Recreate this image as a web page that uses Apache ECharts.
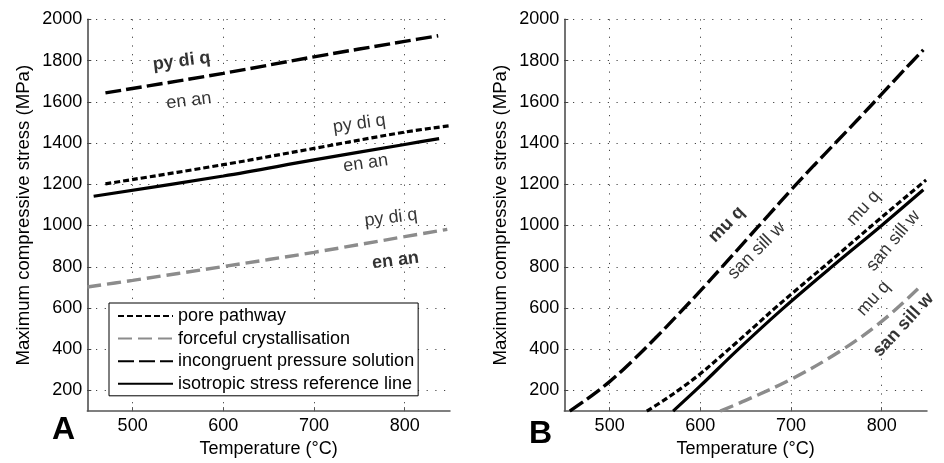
<!DOCTYPE html>
<html><head><meta charset="utf-8">
<script src="https://cdn.jsdelivr.net/npm/echarts/dist/echarts.min.js"></script>
<style>html,body{margin:0;padding:0;background:#fff}#c{width:944px;height:463px}</style>
</head><body><div id="c"></div>
<script>
const FONT = '"Liberation Sans", Arial, sans-serif';
const xTicks = [500, 600, 700, 800];
const yTicks = [200, 400, 600, 800, 1000, 1200, 1400, 1600, 1800, 2000];
const seriesNames = ['pore pathway', 'forceful crystallisation', 'incongruent pressure solution', 'isotropic stress reference line'];

// Panel A
const aPoreT = [470, 600, 700, 800, 850];
const aPoreS = [1202, 1295, 1374, 1453, 1484];
const aForceT = [450, 500, 600, 700, 800, 847];
const aForceS = [702, 734, 801, 870, 946, 981];
const aIncongT = [470, 600, 700, 800, 837];
const aIncongS = [1643, 1738, 1818, 1893, 1920];
const aIsoT = [457, 600, 700, 800, 838];
const aIsoS = [1142, 1240, 1318, 1393, 1421];

// Panel B
const bPoreT = [541, 560, 580, 600, 620, 640, 660, 682, 700, 750, 800, 849];
const bPoreS = [100, 153, 214, 281, 356, 433, 511, 598, 666, 852, 1040, 1221];
const bForceT = [622, 650, 700, 754, 800, 844];
const bForceS = [100, 152, 254, 390, 535, 710];
const bIncongT = [456, 475, 500, 525, 550, 575, 600, 625, 650, 675, 700, 725, 750, 775, 800, 825, 846];
const bIncongS = [100, 158, 243, 343, 452, 566, 683, 804, 927, 1049, 1172, 1290, 1405, 1520, 1637, 1755, 1852];
const bIsoT = [570, 600, 640, 691, 750, 800, 846];
const bIsoS = [100, 222, 392, 597, 818, 1000, 1173];

// Annotations (data coordinates)
const annAT = [554, 562, 750, 757, 785, 790];
const annAS = [1797, 1605, 1493, 1301, 1037, 830];
const annAText = ['py di q', 'en an', 'py di q', 'en an', 'py di q', 'en an'];
const annARot = [7, 7, 8, 8, 7, 7];
const annABold = [true, false, false, false, false, true];

const annBT = [629, 662, 780, 813, 791, 824];
const annBS = [1005, 878, 1085, 926, 646, 518];
const annBText = ['mu q', 'san sill w', 'mu q', 'san sill w', 'mu q', 'san sill w'];
const annBRot = [45, 45, 48, 50, 48, 47];
const annBBold = [true, false, false, false, false, true];

const zip = (a, b) => a.map((v, i) => [v, b[i]]);

const styles = [
  {color: '#000', width: 3.2, type: [6, 3]},
  {color: '#8c8c8c', width: 3.4, type: [14, 6]},
  {color: '#000', width: 3.4, type: [16, 5]},
  {color: '#000', width: 3.2, type: 'solid'}
];

function xAx(gi) {
  return {
    type: 'value', gridIndex: gi, min: 450, max: 850,
    name: 'Temperature (°C)', nameLocation: 'middle', nameGap: 27,
    nameTextStyle: {fontSize: 18, color: '#000', fontFamily: FONT},
    axisLine: {show: true, lineStyle: {color: '#555', width: 1.5}},
    axisTick: {show: true, inside: true, length: 4, customValues: xTicks, lineStyle: {color: '#555'}},
    axisLabel: {customValues: xTicks, fontSize: 18, color: '#000', margin: 6, fontFamily: FONT,
      formatter: v => String(v)},
    splitLine: {show: true, lineStyle: {color: '#444', width: 1, type: [1.2, 7.5]}}
  };
}
function yAx(gi) {
  return {
    type: 'value', gridIndex: gi, min: 100, max: 2000,
    name: 'Maximum compressive stress (MPa)', nameLocation: 'middle', nameGap: 54,
    nameTextStyle: {fontSize: 18.6, color: '#000', fontFamily: FONT},
    axisLine: {show: true, lineStyle: {color: '#444', width: 1.5}},
    axisTick: {show: true, inside: true, length: 4, customValues: yTicks, lineStyle: {color: '#444'}},
    axisLabel: {customValues: yTicks, fontSize: 18, color: '#000', margin: 5, fontFamily: FONT,
      formatter: v => String(v)},
    splitLine: {show: true, lineStyle: {color: '#444', width: 1, type: [1.2, 7.5]}}
  };
}

const panelData = [
  [zip(aPoreT, aPoreS), zip(aForceT, aForceS), zip(aIncongT, aIncongS), zip(aIsoT, aIsoS)],
  [zip(bPoreT, bPoreS), zip(bForceT, bForceS), zip(bIncongT, bIncongS), zip(bIsoT, bIsoS)]
];

const series = [];
panelData.forEach((arr, gi) => {
  arr.forEach((d, k) => {
    series.push({
      type: 'line', name: seriesNames[k], xAxisIndex: gi, yAxisIndex: gi,
      data: d, symbol: 'none', smooth: 0.35, silent: true,
      lineStyle: styles[k], itemStyle: {color: styles[k].color}, z: 3
    });
  });
});

function annSeries(gi, T, S, txt, rot, bold) {
  return {
    type: 'scatter', xAxisIndex: gi, yAxisIndex: gi, symbolSize: 0, silent: true, z: 5,
    itemStyle: {color: '#000'},
    data: T.map((t, i) => ({
      value: [t, S[i]],
      label: {formatter: txt[i], rotate: rot[i], fontWeight: bold[i] ? 'bold' : 'normal'}
    })),
    label: {show: true, position: 'inside', fontSize: 18, color: '#000', fontFamily: FONT,
      textBorderWidth: 0, textBorderColor: 'transparent'}
  };
}
series.push(annSeries(0, annAT, annAS, annAText, annARot, annABold));
series.push(annSeries(1, annBT, annBS, annBText, annBRot, annBBold));

const chart = echarts.init(document.getElementById('c'), null, {renderer: 'canvas'});
chart.setOption({
  animation: false,
  backgroundColor: '#fff',
  grid: [
    {left: 87.3, top: 19.3, width: 362.7, height: 395.2},
    {left: 564.3, top: 19.3, width: 362.7, height: 395.2}
  ],
  xAxis: [xAx(0), xAx(1)],
  yAxis: [yAx(0), yAx(1)],
  legend: {
    data: seriesNames, left: 109, top: 303, orient: 'vertical',
    itemWidth: 55, itemHeight: 14, itemGap: 4.6, padding: [4, 4, 3, 8],
    backgroundColor: '#fff', borderColor: '#000', borderWidth: 1, borderRadius: 0,
    selectedMode: false, z: 10,
    itemStyle: {opacity: 0, borderWidth: 0},
    textStyle: {fontSize: 18, color: '#000', fontFamily: FONT}
  },
  graphic: [
    {type: 'text', left: 52, top: 414, z: 10, style: {text: 'A', font: 'bold 32px ' + FONT, fill: '#000'}},
    {type: 'text', left: 529, top: 418, z: 10, style: {text: 'B', font: 'bold 32px ' + FONT, fill: '#000'}}
  ],
  series: series
});
</script></body></html>
